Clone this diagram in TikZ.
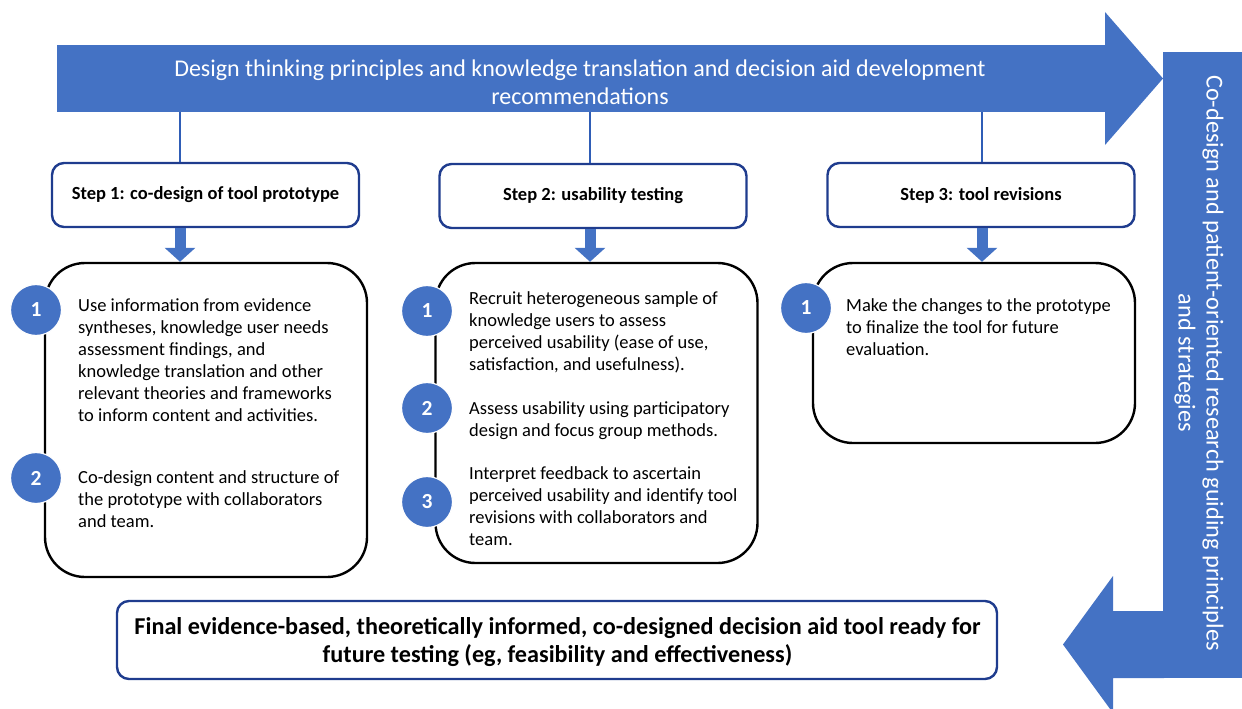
\documentclass[tikz,border=0pt]{standalone}
\usepackage{fontspec}
\setmainfont{Carlito}
\usetikzlibrary{arrows.meta}
\definecolor{accent}{HTML}{4472C4}
\definecolor{navy}{HTML}{1F3C8E}
\definecolor{linkblue}{HTML}{2F5DB6}
\begin{document}
\begin{tikzpicture}[x=1pt,y=-1pt,
  bannertext/.style={inner sep=0pt,text=white,align=center,
    font=\fontsize{24}{28}\selectfont},
  stepbox/.style={draw=navy,line width=2.4pt,rounded corners=12pt,fill=white,
    minimum width=307pt,minimum height=64pt,inner sep=0pt,
    font=\bfseries\fontsize{18.5}{22}\selectfont},
  itembox/.style={draw=black,line width=2.4pt,rounded corners=40pt,fill=white,
    minimum width=322pt,inner sep=0pt},
  itemtext/.style={anchor=north west,inner sep=0pt,align=left,
    font=\fontsize{18.5}{22}\selectfont},
  badge/.style={circle,fill=accent,draw=white,line width=1.2pt,
    minimum size=51pt,inner sep=0pt,text=white,
    font=\bfseries\fontsize{21.5}{22}\selectfont},
  link/.style={draw=linkblue,line width=2pt},
  blockdown/.style={draw=accent,line width=11pt,
    -{Triangle[width=30pt,length=14pt]}}
]
\useasboundingbox (0,0) rectangle (1242,709);

% banner arrow across the top
\node[fill=accent,inner sep=0pt,minimum width=1048pt,minimum height=67pt] (top) at (581,78.5) {};
\fill[accent] (top.north east) -- (1105,12) -- (1163,78.5) -- (1105,145)
  -- (top.south east) -- cycle;
\node[bannertext] (toptext) at (580,82)
  {Design thinking principles and knowledge translation and decision aid development\\recommendations};

% side bar with its return arrow
\node[fill=accent,minimum width=80pt,minimum height=626pt,inner sep=0pt] (side) at (1203,365) {};
\node[rotate=-90,text=white,align=center,font=\fontsize{24.3}{28}\selectfont] (sidetext) at (1199,363)
  {Co-design and patient-oriented research guiding principles\\and strategies};
\fill[accent] (1164,611) -- (1113,611) -- (1113,576) -- (1063,644.5)
  -- (1113,713) -- (1113,678) -- (1164,678) -- cycle;

% step headers
\node[stepbox] (s1) at (205.5,195) {Step 1: co-design of tool prototype};
\node[stepbox] (s2) at (593,196) {Step 2: usability testing};
\node[stepbox] (s3) at (981,195) {Step 3: tool revisions};

% column positions of the connectors
\coordinate (j1) at (180,0);
\coordinate (j2) at (590,0);
\coordinate (j3) at (982,0);

\draw[link] (top.south -| j1) -- (s1.north -| j1);
\draw[link] (top.south -| j2) -- (s2.north -| j2);
\draw[link] (top.south -| j3) -- (s3.north -| j3);

% detail boxes
\node[itembox,minimum height=314pt] (b1) at (206,420) {};
\node[itembox,minimum height=300pt] (b2) at (596.5,413) {};
\node[itembox,minimum height=180pt] (b3) at (974,353) {};

\draw[blockdown] (s1.south -| j1) -- (b1.north -| j1);
\draw[blockdown] (s2.south -| j2) -- (b2.north -| j2);
\draw[blockdown] (s3.south -| j3) -- (b3.north -| j3);

% step 1 items
\node[badge] (c11) at (36,310) {1};
\node[itemtext] (t11) at (78,298) {Use information from evidence\\syntheses, knowledge user needs\\assessment findings, and\\knowledge translation and other\\relevant theories and frameworks\\to inform content and activities.};
\node[badge] (c12) at (36,478) {2};
\node[itemtext] (t12) at (78,470) {Co-design content and structure of\\the prototype with collaborators\\and team.};

% step 2 items
\node[badge] (c21) at (427,311) {1};
\node[itemtext] (t21) at (469,291) {Recruit heterogeneous sample of\\knowledge users to assess\\perceived usability (ease of use,\\satisfaction, and usefulness).};
\node[badge] (c22) at (427,408) {2};
\node[itemtext] (t22) at (469,401) {Assess usability using participatory\\design and focus group methods.};
\node[badge] (c23) at (427,502) {3};
\node[itemtext] (t23) at (469,466) {Interpret feedback to ascertain\\perceived usability and identify tool\\revisions with collaborators and\\team.};

% step 3 item
\node[badge] (c31) at (806,308) {1};
\node[itemtext] (t31) at (846,298) {Make the changes to the prototype\\to finalize the tool for future\\evaluation.};

% outcome
\node[draw=navy,line width=2.4pt,rounded corners=12pt,minimum width=880pt,minimum height=78pt,
  inner sep=0pt] (final) at (557,640) {};
\node[inner sep=0pt,align=center,font=\bfseries\fontsize{24.2}{28}\selectfont] (finaltext) at (557.5,642)
  {Final evidence-based, theoretically informed, co-designed decision aid tool ready for\\future testing (eg, feasibility and effectiveness)};
\end{tikzpicture}
\end{document}
